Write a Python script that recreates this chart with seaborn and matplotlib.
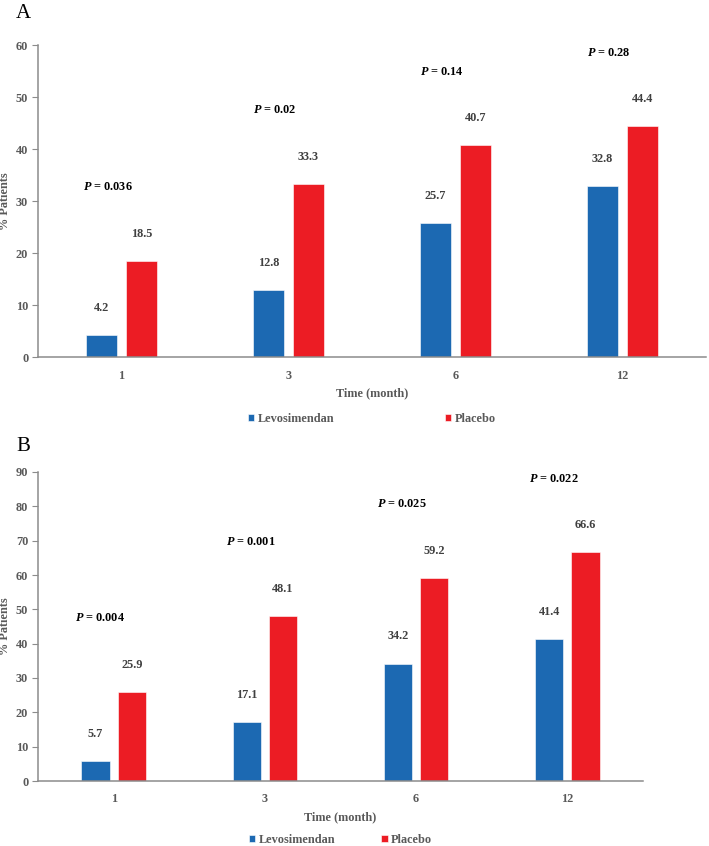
import matplotlib
matplotlib.use("Agg")
import matplotlib.pyplot as plt
import seaborn as sns
import pandas as pd

months = ["1", "3", "6", "12"]
groups = ["Levosimendan", "Placebo"]
a_levo = [4.2, 12.8, 25.7, 32.8]
a_plac = [18.5, 33.3, 40.7, 44.4]
a_p = ["0.036", "0.02", "0.14", "0.28"]
b_levo = [5.7, 17.1, 34.2, 41.4]
b_plac = [25.9, 48.1, 59.2, 66.6]
b_p = ["0.004", "0.001", "0.025", "0.022"]

sns.set_style("white")
plt.rcParams["font.family"] = ["Liberation Serif", "DejaVu Serif"]
plt.rcParams["mathtext.fontset"] = "custom"
plt.rcParams["mathtext.it"] = "Liberation Serif:italic:bold"
plt.rcParams["mathtext.rm"] = "Liberation Serif:bold"

BLUE = "#1C69B2"
RED = "#EC1C24"
GRAY = "#595959"
DARK = "#404040"
FS = 8.8

fig = plt.figure(figsize=(7.09, 8.46), dpi=100)
W, H = 709, 846


def make_axes(left, right, top, bottom):
    return fig.add_axes([left / W, 1 - bottom / H, (right - left) / W, (bottom - top) / H])


axA = make_axes(38, 706, 45, 357)
axB = make_axes(38, 643, 472, 781)


def panel(ax, levo, plac, pvals, ymax, legend_y, colspace, axw):
    df = pd.DataFrame({
        "month": months * 2,
        "pct": levo + plac,
        "group": [groups[0]] * len(months) + [groups[1]] * len(months),
    })
    sns.barplot(data=df, x="month", y="pct", hue="group", order=months,
                hue_order=groups, palette=[BLUE, RED], width=0.48, gap=0.22,
                saturation=1, edgecolor="white", linewidth=0.4, ax=ax)
    ax.set_ylim(0, ymax)
    ax.set_xlim(-0.5, len(months) - 0.5)
    ax.set_yticks(range(0, ymax + 1, 10))
    ax.set_yticklabels([str(v) for v in range(0, ymax + 1, 10)])
    for s in ["top", "right"]:
        ax.spines[s].set_visible(False)
    for s in ["left", "bottom"]:
        ax.spines[s].set_color("#8C8C8C")
        ax.spines[s].set_linewidth(1.1)
    ax.tick_params(axis="y", length=4, width=0.8, color="#8C8C8C", pad=3,
                   labelsize=FS, labelcolor=GRAY, direction="out", left=True)
    ax.tick_params(axis="x", length=0, pad=9, labelsize=FS, labelcolor=GRAY)
    for lab in ax.get_xticklabels() + ax.get_yticklabels():
        lab.set_fontweight("bold")
    ax.set_xlabel("Time (month)", fontsize=FS, fontweight="bold", color=GRAY, labelpad=4)
    ax.set_ylabel("% Patients", fontsize=FS, fontweight="bold", color=GRAY)
    ax.yaxis.set_label_coords(-27 / axw, 0.5)

    # value labels
    for cont, vals in zip(ax.containers, [levo, plac]):
        for patch, v in zip(cont.patches, vals):
            x = patch.get_x() + patch.get_width() / 2
            ax.annotate(f"{v:.1f}", (x, v), xytext=(0, 19.5), textcoords="offset points",
                        ha="center", va="center", fontsize=FS, fontweight="bold", color=DARK)
    # p-values
    for i, (v, p) in enumerate(zip(plac, pvals)):
        ax.annotate(f"$P$ = {p}", (i, v), xytext=(-10, 53), textcoords="offset points",
                    ha="center", va="center", fontsize=FS, fontweight="bold", color="black")

    handles, labels = ax.get_legend_handles_labels()
    ax.legend(handles, labels, loc="center", bbox_to_anchor=(0.5, legend_y), ncol=2,
              frameon=False, handlelength=0.55, handleheight=0.55, handletextpad=0.3,
              columnspacing=colspace, prop={"size": FS, "weight": "bold"},
              labelcolor=GRAY)


panel(axA, a_levo, a_plac, a_p, 60, -0.199, 9.0, 668)
panel(axB, b_levo, b_plac, b_p, 90, -0.191, 3.7, 605)

fig.text(16 / W, 1 - 13 / H, "A", fontsize=15, ha="left", va="center", color="black")
fig.text(16 / W, 1 - 446 / H, "B", fontsize=15, ha="left", va="center", color="black")

fig.savefig("out.png", dpi=100)
